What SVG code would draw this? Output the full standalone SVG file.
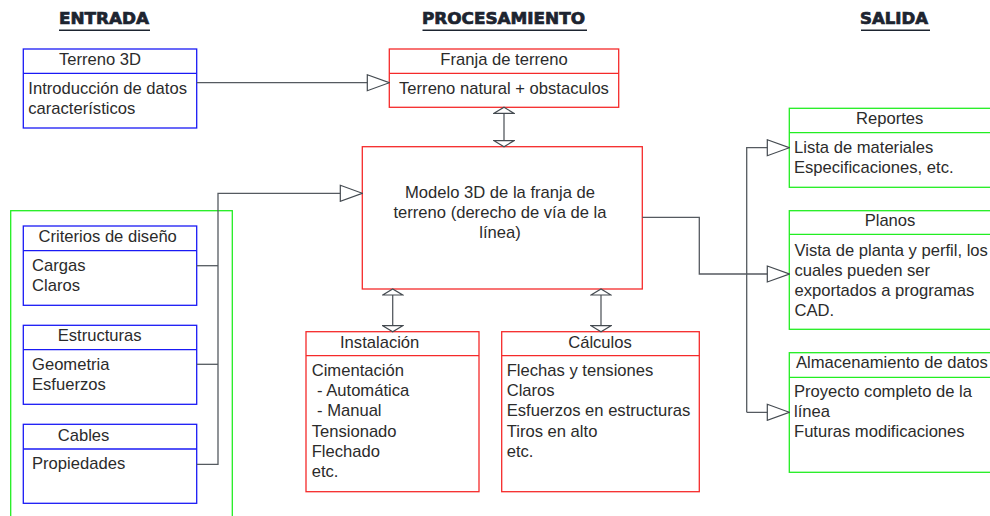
<svg xmlns="http://www.w3.org/2000/svg" width="990" height="516" viewBox="0 0 990 516">
<defs>
<style>
.bg{fill:#ffffff}
.blue{fill:#ffffff;stroke:#1a1af5;stroke-width:1.3}
.red{fill:#ffffff;stroke:#f52a2a;stroke-width:1.3}
.green{fill:#ffffff;stroke:#22ee22;stroke-width:1.3}
.gframe{fill:none;stroke:#22ee22;stroke-width:1.3}
.dblue{stroke:#1a1af5;stroke-width:1.3}
.dred{stroke:#f52a2a;stroke-width:1.3}
.dgreen{stroke:#22ee22;stroke-width:1.3}
text{font-family:"Liberation Sans",Arial,sans-serif;font-size:16.6px;fill:#2b2b2b}
.head{font-family:"DejaVu Sans","Liberation Sans",sans-serif;font-weight:bold;font-size:16px;fill:#1d2430;stroke:#1d2430;stroke-width:0.7}
.uline{stroke:#1d2430;stroke-width:1.5}
.mid{text-anchor:middle}
.conn{fill:none;stroke:#555a60;stroke-width:1.3}
</style>
<marker id="tri" markerUnits="userSpaceOnUse" markerWidth="24" markerHeight="18" viewBox="-1 -1 24 18" refX="22" refY="8" orient="auto">
<path d="M0,0 L22,8 L0,16 Z" fill="#ffffff" stroke="#444a50" stroke-width="1.2"/>
</marker>
<marker id="flat" markerUnits="userSpaceOnUse" markerWidth="8" markerHeight="22" viewBox="-1 -1 8 22" refX="6" refY="10" orient="auto-start-reverse">
<path d="M0,0 L6,10 L0,20 Z" fill="#ffffff" stroke="#444a50" stroke-width="1.2"/>
</marker>
</defs>
<rect class="bg" x="0" y="0" width="990" height="516"/>

<g id="headings">
<text class="head" x="59" y="24" textLength="90" lengthAdjust="spacingAndGlyphs">ENTRADA</text>
<line class="uline" x1="59" y1="30.3" x2="150" y2="30.3"/>
<text class="head" x="422" y="24" textLength="163" lengthAdjust="spacingAndGlyphs">PROCESAMIENTO</text>
<line class="uline" x1="422.5" y1="30.3" x2="587" y2="30.3"/>
<text class="head" x="860" y="24" textLength="68" lengthAdjust="spacingAndGlyphs">SALIDA</text>
<line class="uline" x1="861" y1="30.3" x2="930" y2="30.3"/>
</g>

<g id="grupo-entrada">
<rect class="gframe" x="10.7" y="210.7" width="221.6" height="320"/>
</g>

<g id="terreno3d">
<rect class="blue" x="23.3" y="49" width="173.4" height="79"/>
<line class="dblue" x1="23.3" y1="73.3" x2="196.7" y2="73.3"/>
<text x="59" y="65">Terreno 3D</text>
<text x="28.3" y="94">Introducción de datos</text>
<text x="28.3" y="114">característicos</text>
</g>

<g id="criterios">
<rect class="blue" x="23.3" y="226" width="173.4" height="79.3"/>
<line class="dblue" x1="23.3" y1="250.7" x2="196.7" y2="250.7"/>
<text x="38.5" y="242.3">Criterios de diseño</text>
<text x="32" y="271.3">Cargas</text>
<text x="32" y="291.3">Claros</text>
</g>

<g id="estructuras">
<rect class="blue" x="23.3" y="325.3" width="173.4" height="79"/>
<line class="dblue" x1="23.3" y1="349.7" x2="196.7" y2="349.7"/>
<text x="57.7" y="341">Estructuras</text>
<text x="32" y="370">Geometria</text>
<text x="32" y="390">Esfuerzos</text>
</g>

<g id="cables">
<rect class="blue" x="23.3" y="424.3" width="173.4" height="79"/>
<line class="dblue" x1="23.3" y1="449" x2="196.7" y2="449"/>
<text x="57.7" y="440.7">Cables</text>
<text x="32" y="469">Propiedades</text>
</g>

<g id="franja">
<rect class="red" x="389.3" y="49" width="229.4" height="58.3"/>
<line class="dred" x1="389.3" y1="73.3" x2="618.7" y2="73.3"/>
<text class="mid" x="504" y="65">Franja de terreno</text>
<text class="mid" x="504" y="94">Terreno natural + obstaculos</text>
</g>

<g id="modelo">
<rect class="red" x="362.3" y="146.7" width="280" height="142.3"/>
<text class="mid" x="500" y="198.3">Modelo 3D de la franja de</text>
<text class="mid" x="500" y="218.3">terreno (derecho de vía de la</text>
<text class="mid" x="500" y="238.3">línea)</text>
</g>

<g id="instalacion">
<rect class="red" x="306" y="331.7" width="173" height="160"/>
<line class="dred" x1="306" y1="355.7" x2="479" y2="355.7"/>
<text x="340" y="347.7">Instalación</text>
<text x="311.7" y="375.7">Cimentación</text>
<text x="317" y="396">- Automática</text>
<text x="317" y="416.3">- Manual</text>
<text x="311.7" y="436.5">Tensionado</text>
<text x="311.7" y="456.7">Flechado</text>
<text x="311.7" y="476.7">etc.</text>
</g>

<g id="calculos">
<rect class="red" x="501.7" y="331.7" width="197.6" height="160"/>
<line class="dred" x1="501.7" y1="355.7" x2="699.3" y2="355.7"/>
<text class="mid" x="600" y="347.7">Cálculos</text>
<text x="506.7" y="375.7">Flechas y tensiones</text>
<text x="506.7" y="396">Claros</text>
<text x="506.7" y="416.3">Esfuerzos en estructuras</text>
<text x="506.7" y="436.5">Tiros en alto</text>
<text x="506.7" y="456.7">etc.</text>
</g>

<g id="reportes">
<rect class="green" x="789.3" y="108.3" width="220" height="79"/>
<line class="dgreen" x1="789.3" y1="132.7" x2="1000" y2="132.7"/>
<text class="mid" x="889.7" y="124">Reportes</text>
<text x="794" y="153.3">Lista de materiales</text>
<text x="794" y="173.3">Especificaciones, etc.</text>
</g>

<g id="planos">
<rect class="green" x="789.3" y="210.7" width="220" height="118.6"/>
<line class="dgreen" x1="789.3" y1="234.3" x2="1000" y2="234.3"/>
<text class="mid" x="890" y="226">Planos</text>
<text x="794.5" y="255.5">Vista de planta y perfil, los</text>
<text x="794.5" y="275.5">cuales pueden ser</text>
<text x="794.5" y="295.5">exportados a programas</text>
<text x="794.5" y="315.5">CAD.</text>
</g>

<g id="almacenamiento">
<rect class="green" x="789.3" y="352.7" width="220" height="119.6"/>
<line class="dgreen" x1="789.3" y1="377.3" x2="1000" y2="377.3"/>
<text x="796" y="368.3">Almacenamiento de datos</text>
<text x="794" y="396.7">Proyecto completo de la</text>
<text x="794" y="416.7">línea</text>
<text x="794" y="436.7">Futuras modificaciones</text>
</g>

<g id="connectors">
<path class="conn" d="M196.7,82.7 H389.3" marker-end="url(#tri)"/>
<path class="conn" d="M196.7,464.3 H218 V193.3 H362.3" marker-end="url(#tri)"/>
<path class="conn" d="M196.7,265.7 H218"/>
<path class="conn" d="M196.7,364.3 H218"/>
<path class="conn" d="M642.3,217.3 H699.3 V274 H789.3" marker-end="url(#tri)"/>
<path class="conn" d="M746.7,412.3 V147.7 H789.3" marker-end="url(#tri)"/>
<path class="conn" d="M746.7,412.3 H789.3" marker-end="url(#tri)"/>
<path class="conn" d="M504,107.3 V146.7" marker-start="url(#flat)" marker-end="url(#flat)"/>
<path class="conn" d="M392.7,289 V331.7" marker-start="url(#flat)" marker-end="url(#flat)"/>
<path class="conn" d="M601,289 V331.7" marker-start="url(#flat)" marker-end="url(#flat)"/>
</g>
</svg>
